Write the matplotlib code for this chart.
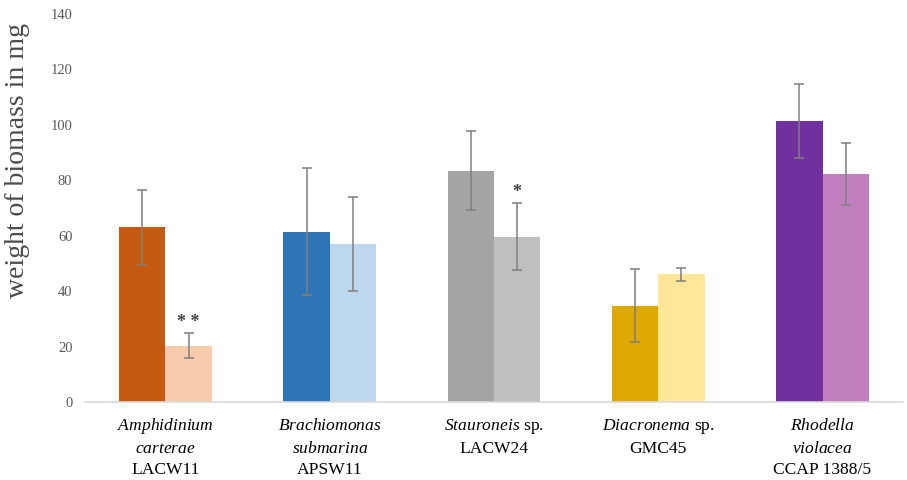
import numpy as np
import matplotlib
matplotlib.use('Agg')
import matplotlib.pyplot as plt

plt.rcParams['font.family'] = ['Liberation Serif', 'DejaVu Serif']
plt.rcParams['mathtext.fontset'] = 'custom'
plt.rcParams['mathtext.rm'] = 'Liberation Serif'
plt.rcParams['mathtext.it'] = 'Liberation Serif:italic'

# biomass per strain, control vs. treated (mg)
strains = ['Amphidinium carterae', 'Brachiomonas submarina', 'Stauroneis sp.',
           'Diacronema sp.', 'Rhodella violacea']
control = [63.1, 61.5, 83.5, 34.8, 101.4]
control_err = [13.5, 23.0, 14.2, 13.3, 13.2]
treated = [20.3, 56.9, 59.7, 46.1, 82.3]
treated_err = [4.5, 17.0, 12.0, 2.4, 11.3]
signif = ['* *', '', '*', '', '']

# tick label lines (species name, second line, strain code)
label_lines = [
    [r'$\mathit{Amphidinium}$', r'$\mathit{carterae}$', 'LACW11'],
    [r'$\mathit{Brachiomonas}$', r'$\mathit{submarina}$', 'APSW11'],
    [r'$\mathit{Stauroneis}$ sp.', 'LACW24'],
    [r'$\mathit{Diacronema}$ sp.', 'GMC45'],
    [r'$\mathit{Rhodella}$', r'$\mathit{violacea}$', 'CCAP 1388/5'],
]

dark_cols = ['#C55A11', '#2E75B6', '#A5A5A5', '#DEA900', '#7030A0']
light_cols = ['#F8CBAD', '#BDD7EE', '#BFBFBF', '#FFE699', '#C27FBF']

fig = plt.figure(figsize=(9.07, 4.8), dpi=100)
ax = fig.add_axes([85/907, 78/480, 818/907, 388/480])

x = np.arange(len(strains))
w = 0.283
ekw = dict(ecolor='#7F7F7F', elinewidth=1.1, capsize=3.5, capthick=1.1)
ax.bar(x - w/2, control, w, color=dark_cols, yerr=control_err, error_kw=ekw, zorder=2)
ax.bar(x + w/2, treated, w, color=light_cols, yerr=treated_err, error_kw=ekw, zorder=2)

for i, s in enumerate(signif):
    if s:
        ax.text(x[i] + w/2, treated[i] + treated_err[i] + 0.8, s, ha='center', va='bottom',
                fontsize=13, fontweight='bold', color='#404040')

ax.set_xlim(-0.49, 4.49)
ax.set_ylim(0, 140)
ax.set_yticks(np.arange(0, 141, 20))
ax.tick_params(axis='y', length=0, pad=9, labelsize=10.5, labelcolor='#595959')
ax.set_xticks([])
for sp in ['top', 'right', 'left']:
    ax.spines[sp].set_visible(False)
ax.spines['bottom'].set_color('#D9D9D9')
ax.spines['bottom'].set_linewidth(1.2)

fig.text(18/907, 1 - 161/480, 'weight of biomass in mg', rotation=90,
         ha='center', va='center', fontsize=20, color='#4a4a4a')

trans = ax.get_xaxis_transform()
line_y = [-0.062, -0.121, -0.176]
for i, lines in enumerate(label_lines):
    for j, txt in enumerate(lines):
        ax.text(x[i], line_y[j], txt, transform=trans, ha='center', va='center',
                fontsize=12.6, color='black')

fig.savefig('out.png', dpi=100)
